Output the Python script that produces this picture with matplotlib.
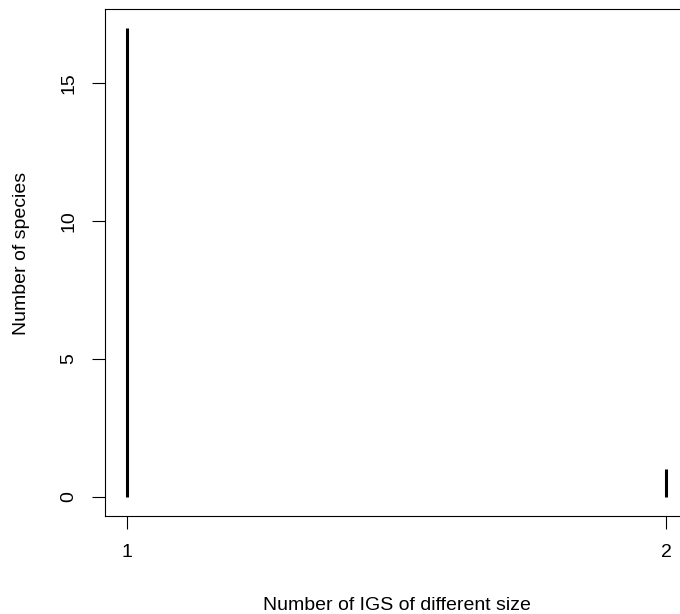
import matplotlib
matplotlib.use('Agg')
import matplotlib.pyplot as plt

# Data: counts of species per number of IGS sizes
igs_sizes = [1, 2]
n_species = [17, 1]

plt.rcParams['font.family'] = ['Liberation Sans', 'DejaVu Sans']

fig = plt.figure(figsize=(6.8, 6.14), dpi=100)
# R-style plot region; right edge runs slightly past the figure
ax = fig.add_axes([105.4 / 680, 98.2 / 614, (687.6 - 105.4) / 680, (605 - 98.2) / 614])

# type="h" style vertical lines
ax.vlines(igs_sizes, 0, n_species, colors='black', linewidth=2.2, capstyle='butt')

ax.set_xlim(0.96, 2.04)
ax.set_ylim(-0.68, 17.68)
ax.set_xticks([1, 2])
ax.set_yticks([0, 5, 10, 15])
ax.tick_params(axis='both', direction='out', length=9.4, width=0.8, labelsize=14, pad=10.8)
for lab in ax.get_yticklabels():
    lab.set_rotation(90)
    lab.set_va('center')

for s in ax.spines.values():
    s.set_linewidth(0.8)

fig.text(396.5 / 680, 1 - 610 / 614, 'Number of IGS of different size', ha='center', va='baseline', fontsize=14)
fig.text(26.5 / 680, 1 - 253.5 / 614, 'Number of species', ha='center', va='baseline', fontsize=14,
         rotation=90, rotation_mode='anchor')

fig.savefig('out.png', dpi=100)
